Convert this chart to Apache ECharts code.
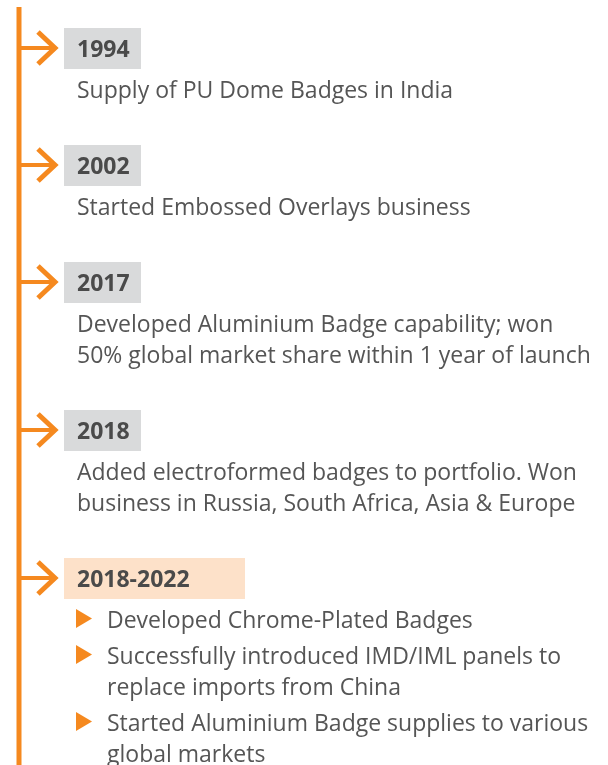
<!DOCTYPE html>
<html lang="en">
<head>
<meta charset="utf-8">
<script src="https://cdn.jsdelivr.net/npm/echarts@6/dist/echarts.min.js"></script>
<style>html,body{margin:0;padding:0;background:#fff;}</style>
</head>
<body>
<div id="main" style="width:608px;height:765px;"></div>
<script type="text/javascript">
    // milestones
    var years = ['1994', '2002', '2017', '2018', '2018-2022'];
    var descriptions = [
        ['Supply of PU Dome Badges in India'],
        ['Started Embossed Overlays business'],
        ['Developed Aluminium Badge capability; won', '50% global market share within 1 year of launch'],
        ['Added electroformed badges to portfolio. Won', 'business in Russia, South Africa, Asia & Europe'],
        []
    ];
    var bullets = [
        ['Developed Chrome-Plated Badges'],
        ['Successfully introduced IMD/IML panels to', 'replace imports from China'],
        ['Started Aluminium Badge supplies to various', 'global markets']
    ];

    var orange = '#f5891f';
    var fontFamily = '"Open Sans", "Noto Sans", sans-serif';
    var myChart = echarts.init(document.getElementById('main'));
    var elements = [];

    // vertical spine
    elements.push({type: 'line', shape: {x1: 19, y1: 7, x2: 19, y2: 765}, style: {stroke: orange, lineWidth: 5}});

    var boxTop = 28;
    years.forEach(function (year, i) {
        var last = i === years.length - 1;
        var cy = boxTop + 20;
        elements.push({type: 'line', shape: {x1: 19, y1: cy, x2: 54, y2: cy}, style: {stroke: orange, lineWidth: 4}});
        elements.push({type: 'polyline', shape: {points: [[38, cy - 16], [55, cy], [38, cy + 16]]},
            style: {stroke: orange, lineWidth: 5, fill: null}});
        elements.push({type: 'rect', shape: {x: 64, y: boxTop, width: last ? 181 : 77, height: 41},
            style: {fill: last ? '#fde1c9' : '#d9dadb'}});
        elements.push({type: 'text', x: 77, y: cy + 2,
            style: {text: year, font: 'bold 23px ' + fontFamily, fill: '#4a4a4a', verticalAlign: 'middle'}});

        var ty = boxTop + 63;
        descriptions[i].forEach(function (line, k) {
            elements.push({type: 'text', x: 77, y: ty + k * 31,
                style: {text: line, font: '23px ' + fontFamily, fill: '#555555', verticalAlign: 'middle'}});
        });

        if (last) {
            bullets.forEach(function (item) {
                elements.push({type: 'polygon', shape: {points: [[76, ty - 12], [92, ty - 2.5], [76, ty + 7]]},
                    style: {fill: orange}});
                item.forEach(function (line, k) {
                    elements.push({type: 'text', x: 107, y: ty + k * 31,
                        style: {text: line, font: '23px ' + fontFamily, fill: '#555555', verticalAlign: 'middle'}});
                });
                ty += item.length * 31 + 5;
            });
        }
        boxTop += 86 + 31 * descriptions[i].length;
    });

    var option = {
        backgroundColor: '#ffffff',
        animation: false,
        graphic: {elements: elements}
    };
    myChart.setOption(option);
</script>
</body>
</html>
